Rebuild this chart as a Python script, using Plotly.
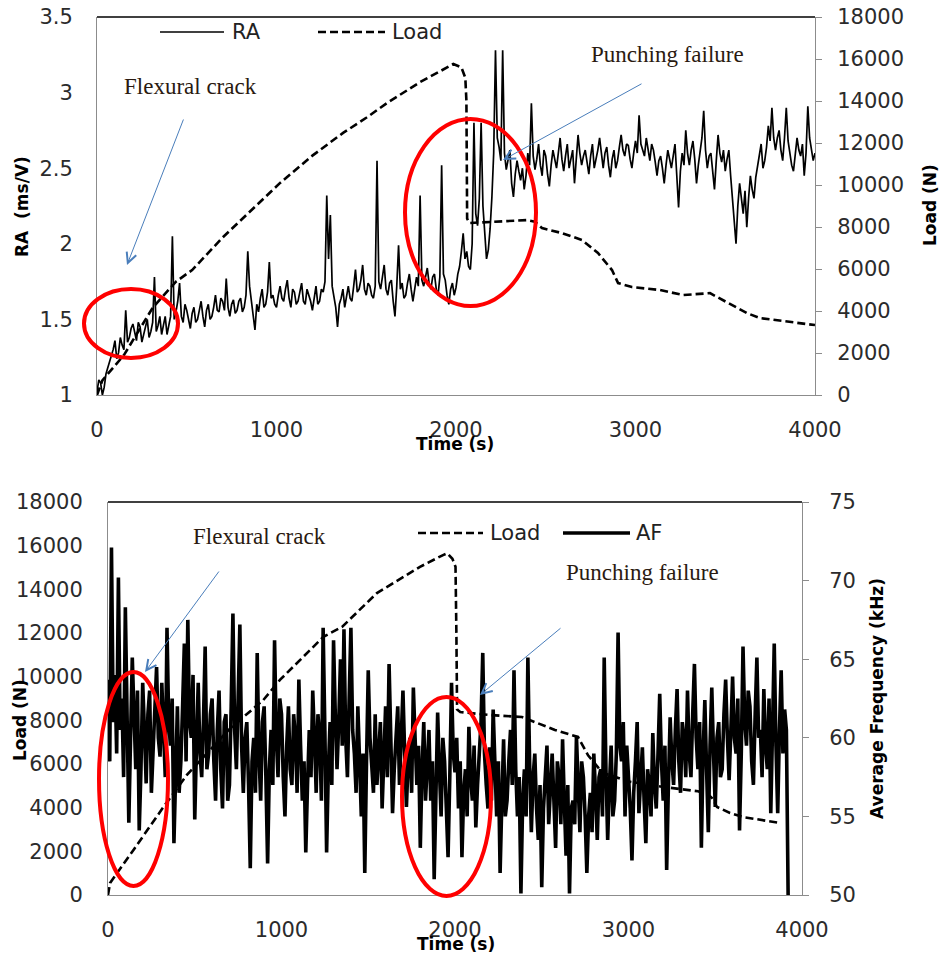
import plotly.graph_objects as go

W, H = 943, 961

# ---------------- data ----------------
ra_step = 10
ra_values = [
    1.02, 1.10, 1.08, 1.00, 1.05, 1.14, 1.18, 1.22, 1.25, 1.30, 1.36, 1.24, 1.28, 1.38, 1.33, 1.30, 1.56, 1.35, 1.38, 1.44,
    1.47, 1.40, 1.36, 1.48, 1.45, 1.35, 1.40, 1.46, 1.50, 1.38, 1.42, 1.48, 1.78, 1.42, 1.46, 1.52, 1.40, 1.46, 1.52, 1.40,
    1.45, 1.52, 2.05, 1.50, 1.55, 1.62, 1.74, 1.52, 1.48, 1.60, 1.56, 1.50, 1.44, 1.54, 1.58, 1.48, 1.50, 1.56, 1.62, 1.52,
    1.45, 1.56, 1.60, 1.50, 1.52, 1.58, 1.66, 1.56, 1.55, 1.64, 1.62, 1.56, 1.77, 1.58, 1.52, 1.60, 1.63, 1.54, 1.56, 1.62,
    1.64, 1.55, 1.58, 1.66, 1.95, 1.72, 1.62, 1.55, 1.43, 1.60, 1.55, 1.64, 1.70, 1.58, 1.60, 1.68, 1.88, 1.64, 1.66, 1.60,
    1.58, 1.66, 1.72, 1.64, 1.62, 1.70, 1.76, 1.64, 1.58, 1.70, 1.68, 1.60, 1.62, 1.68, 1.74, 1.62, 1.60, 1.70, 1.66, 1.62,
    1.56, 1.66, 1.72, 1.60, 1.62, 1.70, 1.68, 1.75, 2.32, 1.90, 2.19, 1.72, 1.66, 1.58, 1.45, 1.60, 1.64, 1.70, 1.58, 1.66,
    1.72, 1.64, 1.62, 1.72, 1.83, 1.68, 1.70, 1.76, 1.86, 1.70, 1.66, 1.74, 1.72, 1.66, 1.64, 1.72, 2.55, 1.75, 1.70, 1.78,
    1.86, 1.70, 1.66, 1.74, 1.76, 1.62, 1.52, 1.72, 1.99, 1.70, 1.74, 1.64, 1.66, 1.74, 1.80, 1.70, 1.62, 1.70, 1.78, 1.72,
    2.32, 1.76, 1.72, 1.78, 1.84, 1.74, 1.70, 1.78, 1.80, 1.70, 1.66, 1.78, 2.52, 1.80, 1.76, 1.66, 1.60, 1.70, 1.74, 1.66,
    1.71, 1.80, 1.85, 1.95, 2.07, 1.90, 1.95, 1.85, 1.83, 2.00, 2.80, 2.20, 2.12, 2.30, 2.80, 2.25, 2.05, 1.90, 1.96, 2.10,
    2.31, 2.60, 3.28, 2.70, 2.64, 2.55, 3.28, 2.60, 2.49, 2.56, 2.62, 2.40, 2.31, 2.46, 2.55, 2.48, 2.42, 2.50, 2.36, 2.45,
    2.60, 2.52, 2.93, 2.58, 2.49, 2.56, 2.66, 2.52, 2.45, 2.62, 2.58, 2.46, 2.38, 2.52, 2.62, 2.56, 2.50, 2.60, 2.70, 2.56,
    2.48, 2.58, 2.66, 2.50, 2.55, 2.62, 2.40, 2.55, 2.72, 2.60, 2.52, 2.58, 2.62, 2.54, 2.46, 2.58, 2.66, 2.50, 2.55, 2.62,
    2.70, 2.58, 2.50, 2.60, 2.64, 2.52, 2.44, 2.56, 2.62, 2.50, 2.55, 2.64, 2.72, 2.62, 2.58, 2.66, 2.65, 2.56, 2.50, 2.60,
    2.68, 2.60, 2.85, 2.66, 2.62, 2.58, 2.70, 2.62, 2.55, 2.66, 2.62, 2.54, 2.45, 2.55, 2.58, 2.50, 2.40, 2.52, 2.62, 2.56,
    2.50, 2.58, 2.66, 2.45, 2.24, 2.48, 2.60, 2.52, 2.75, 2.60, 2.52, 2.62, 2.68, 2.56, 2.40, 2.52, 2.62, 2.70, 2.88, 2.62,
    2.50, 2.58, 2.60, 2.48, 2.36, 2.55, 2.72, 2.60, 2.54, 2.62, 2.48, 2.56, 2.62, 2.45, 2.30, 2.20, 2.00, 2.25, 2.40, 2.30,
    2.20, 2.35, 2.11, 2.30, 2.45, 2.36, 2.30, 2.44, 2.52, 2.60, 2.66, 2.50, 2.55, 2.64, 2.78, 2.68, 2.90, 2.70, 2.62, 2.70,
    2.75, 2.62, 2.55, 2.70, 2.90, 2.68, 2.60, 2.52, 2.48, 2.60, 2.70, 2.62, 2.58, 2.66, 2.45, 2.60, 2.91, 2.70, 2.62, 2.55,
    2.60,
]
ra_time = [ra_step * i for i in range(len(ra_values))]

load_top_time = [0, 30, 150, 310, 440, 530, 700, 900, 1020, 1200, 1371, 1500,
                 1615, 1800, 1966, 1985, 2030, 2052, 2058, 2062, 2075, 2200,
                 2395, 2440, 2479, 2590, 2702, 2791, 2869, 2903, 2980, 3136,
                 3265, 3415, 3510, 3621, 3694, 3877, 4000]
load_top_values = [0, 700, 1900, 4150, 5400, 5950, 7500, 9100, 10100, 11400,
                   12480, 13200, 13900, 14900, 15700, 15760, 15600, 15100,
                   14000, 8400, 8190, 8240, 8330, 8250, 7950, 7710, 7380, 6760,
                   5950, 5330, 5140, 5000, 4760, 4850, 4430, 3900, 3660, 3480,
                   3330]

af_step = 10
af_values = [
    63.7, 58.5, 72.1, 61.0, 64.0, 59.0, 70.2, 60.5, 62.5, 57.5, 68.3, 62.0, 54.6, 60.0, 65.1, 61.5, 58.0, 63.0, 54.1, 58.0,
    63.5, 60.5, 57.1, 61.5, 63.0, 56.5, 59.0, 62.0, 64.5, 60.0, 58.8, 63.5, 61.0, 57.5, 67.0, 61.0, 59.5, 62.5, 53.3, 59.0,
    62.0, 56.5, 58.5, 62.0, 66.0, 58.5, 67.5, 61.0, 60.0, 64.0, 54.8, 59.5, 63.5, 59.0, 57.5, 61.0, 65.8, 58.0, 59.0, 61.5,
    62.5, 58.5, 56.0, 60.5, 63.0, 58.0, 55.5, 61.0, 61.5, 56.0, 57.0, 62.0, 67.9, 60.5, 58.0, 62.5, 67.2, 59.5, 56.5, 60.0,
    61.0, 57.0, 51.7, 58.5, 60.0, 56.5, 65.4, 59.0, 56.0, 61.0, 62.0, 57.5, 52.0, 58.0, 60.5, 57.0, 66.2, 60.0, 57.5, 62.5,
    61.5, 57.5, 55.0, 59.5, 62.0, 58.0, 57.0, 61.5, 60.0, 56.5, 63.7, 59.5, 56.0, 58.5, 52.7, 57.0, 60.5, 57.5, 63.0, 60.0,
    56.5, 61.5, 60.0, 56.0, 67.0, 60.5, 52.7, 58.0, 61.0, 57.0, 66.2, 61.5, 58.0, 61.0, 65.0, 59.5, 66.9, 60.0, 57.5, 62.5,
    67.0, 60.5, 59.0, 56.5, 62.0, 58.5, 55.0, 59.0, 51.4, 58.5, 64.3, 60.0, 58.0, 56.5, 61.5, 57.0, 59.0, 61.0, 55.5, 58.5,
    62.0, 57.5, 64.7, 60.0, 55.2, 58.0, 60.5, 62.0, 57.0, 59.5, 63.0, 59.0, 55.6, 58.5, 60.0, 56.5, 63.2, 60.0, 57.0, 59.5,
    53.0, 58.0, 61.0, 56.0, 58.0, 60.5, 56.0, 58.5, 51.0, 56.0, 61.6, 58.0, 55.0, 60.0, 58.5, 55.5, 52.4, 57.5, 63.5, 59.0,
    57.8, 60.0, 55.5, 58.5, 52.4, 56.5, 58.0, 55.0, 60.7, 57.5, 56.0, 59.5, 54.3, 57.0, 59.0, 61.0, 65.4, 59.0, 57.0, 55.5,
    59.4, 56.0, 61.8, 58.5, 55.0, 58.5, 51.4, 56.0, 59.9, 55.0, 56.0, 58.5, 60.5, 57.0, 64.3, 58.0, 55.0, 57.5, 50.1, 56.0,
    58.0, 55.0, 65.1, 58.5, 54.0, 57.5, 59.0, 55.5, 53.5, 57.0, 50.5, 55.5, 57.5, 59.5, 54.5, 56.5, 59.0, 56.0, 53.0, 58.5,
    57.5, 54.5, 59.9, 56.0, 52.5, 57.0, 50.1, 55.5, 56.0, 54.5, 60.1, 57.0, 54.0, 58.5, 57.5, 55.0, 51.4, 55.0, 56.5, 54.0,
    59.0, 56.5, 53.5, 57.5, 58.0, 55.0, 65.1, 58.0, 53.5, 57.0, 59.5, 55.0, 56.0, 59.0, 66.7, 59.5, 58.5, 61.0, 55.0, 59.5,
    57.8, 55.5, 52.2, 56.5, 58.5, 61.0, 55.2, 57.5, 59.4, 56.0, 53.3, 58.0, 57.0, 55.0, 60.3, 57.0, 55.5, 59.0, 62.8, 58.5,
    56.0, 59.5, 51.6, 57.0, 61.3, 58.5, 57.0, 60.5, 63.1, 58.5, 56.5, 61.0, 60.0, 57.5, 63.0, 59.0, 57.5, 61.5, 64.7, 60.0,
    58.0, 61.0, 53.0, 59.0, 62.4, 58.0, 54.0, 59.5, 63.2, 59.0, 55.6, 60.0, 61.0, 57.5, 58.0, 61.5, 63.7, 60.0, 57.3, 60.5,
    63.9, 60.0, 59.0, 62.5, 54.1, 59.0, 65.8, 61.0, 59.5, 63.0, 62.0, 58.5, 57.0, 61.5, 65.1, 60.0, 60.5, 57.5, 63.1, 59.5,
    58.0, 62.5, 55.2, 60.5, 66.0, 59.5, 55.2, 60.5, 64.3, 59.0, 61.8, 60.5, 50.0,
]
af_time = [af_step * i for i in range(len(af_values))]

load_bot_time = [0, 12, 150, 317, 455, 700, 895, 991, 1241, 1349, 1550, 1798,
                 1931, 1955, 1985, 2003, 2008, 2012, 2030, 2190, 2386, 2478,
                 2576, 2709, 2767, 2850, 3000, 3200, 3400, 3460, 3487, 3510,
                 3585, 3660, 3775, 3873]
load_bot_values = [0, 550, 2100, 4000, 5500, 7600, 8930, 9850, 11820, 12280,
                   13830, 15030, 15570, 15650, 15400, 15030, 12000, 8500, 8380,
                   8250, 8150, 7880, 7560, 7240, 6400, 5600, 5200, 4950, 4750,
                   4600, 4400, 4030, 3760, 3570, 3430, 3300]

time_ticks = [0, 1000, 2000, 3000, 4000]


# ---------------- helpers (pixel -> paper) ----------------
def px(x):
    return x / W


def py(y):
    return 1 - y / H


TOP_X = [px(97), px(815)]
TOP_Y = [py(395), py(17)]
BOT_X = [px(108), px(802)]
BOT_Y = [py(895), py(502)]

TICK_FONT = dict(family="DejaVu Sans", size=21, color="#2b2b2b")
SERIF = dict(family="Liberation Serif", size=23, color="#2a1a10")
AX_GRAY = "#8c8c8c"
DASH = "8px,4px"

fig = go.Figure()

fig.add_trace(go.Scatter(x=ra_time, y=ra_values, mode="lines", name="RA",
                         line=dict(color="black", width=1.7),
                         xaxis="x", yaxis="y", showlegend=False))
fig.add_trace(go.Scatter(x=load_top_time, y=load_top_values, mode="lines",
                         name="Load", line=dict(color="black", width=2.6, dash=DASH),
                         xaxis="x", yaxis="y2", showlegend=False))
fig.add_trace(go.Scatter(x=load_bot_time, y=load_bot_values, mode="lines",
                         name="Load", line=dict(color="black", width=2.6, dash=DASH),
                         xaxis="x2", yaxis="y3", showlegend=False))
fig.add_trace(go.Scatter(x=af_time, y=af_values, mode="lines", name="AF",
                         line=dict(color="black", width=3.6),
                         xaxis="x2", yaxis="y4", showlegend=False))

common_x = dict(range=[0, 4000], tickvals=time_ticks, tickformat="d",
                showgrid=False, zeroline=False, showline=True, linecolor=AX_GRAY,
                linewidth=1, ticks="", tickfont=TICK_FONT, ticklabelstandoff=16,
                automargin=False)

fig.update_layout(
    width=W, height=H,
    margin=dict(l=0, r=0, t=0, b=0),
    paper_bgcolor="white", plot_bgcolor="white",
    showlegend=False,
    xaxis=dict(domain=TOP_X, anchor="y", **common_x),
    yaxis=dict(domain=TOP_Y, anchor="x", range=[1, 3.5], dtick=0.5,
               showgrid=False, zeroline=False, showline=True, linecolor=AX_GRAY,
               ticks="", tickfont=TICK_FONT, ticklabelstandoff=19,
               automargin=False),
    yaxis2=dict(overlaying="y", anchor="x", side="right", range=[0, 18000],
                dtick=2000, tickformat="d", showgrid=False, zeroline=False,
                showline=True, linecolor=AX_GRAY, ticks="outside", ticklen=6,
                tickcolor=AX_GRAY, tickfont=TICK_FONT, ticklabelstandoff=11,
                automargin=False),
    xaxis2=dict(domain=BOT_X, anchor="y3", **common_x),
    yaxis3=dict(domain=BOT_Y, anchor="x2", range=[0, 18000], dtick=2000,
                tickformat="d", showgrid=False, zeroline=False, showline=True,
                linecolor=AX_GRAY, ticks="", tickfont=TICK_FONT,
                ticklabelstandoff=20, automargin=False),
    yaxis4=dict(overlaying="y3", anchor="x2", side="right", range=[50, 75],
                dtick=5, showgrid=False, zeroline=False, showline=True,
                linecolor=AX_GRAY, ticks="outside", ticklen=6, tickcolor=AX_GRAY,
                tickfont=TICK_FONT, ticklabelstandoff=16, automargin=False),
)

shapes = []
# top borders of plot areas
shapes.append(dict(type="line", xref="paper", yref="paper", x0=TOP_X[0], x1=TOP_X[1],
                   y0=TOP_Y[1], y1=TOP_Y[1], line=dict(color="black", width=1.5)))
shapes.append(dict(type="line", xref="paper", yref="paper", x0=BOT_X[0], x1=BOT_X[1],
                   y0=BOT_Y[1], y1=BOT_Y[1], line=dict(color="black", width=1.5)))

# manual legends
shapes.append(dict(type="line", xref="paper", yref="paper", x0=px(160), x1=px(224),
                   y0=py(32), y1=py(32), line=dict(color="black", width=1.5)))
shapes.append(dict(type="line", xref="paper", yref="paper", x0=px(318), x1=px(385),
                   y0=py(32), y1=py(32), line=dict(color="black", width=2.6, dash=DASH)))
shapes.append(dict(type="line", xref="paper", yref="paper", x0=px(418), x1=px(483),
                   y0=py(533), y1=py(533), line=dict(color="black", width=2.6, dash=DASH)))
shapes.append(dict(type="line", xref="paper", yref="paper", x0=px(563), x1=px(630),
                   y0=py(533), y1=py(533), line=dict(color="black", width=3.5)))

# red ellipses
for (x0, y0, x1, y1) in [(84, 289, 178, 358), (405, 119, 536, 306),
                         (99, 672, 168, 886), (402, 697, 491, 896)]:
    shapes.append(dict(type="circle", xref="paper", yref="paper",
                       x0=px(x0), x1=px(x1), y0=py(y1), y1=py(y0),
                       line=dict(color="#ff0000", width=4)))
fig.update_layout(shapes=shapes)

ann = []


def text(x, y, s, font, xanchor="center", angle=0):
    ann.append(dict(x=px(x), y=py(y), xref="paper", yref="paper", text=s,
                    showarrow=False, font=font, xanchor=xanchor, yanchor="middle",
                    textangle=angle))


LEG_FONT = dict(family="DejaVu Sans", size=21, color="#222222")
text(230, 32, "RA", LEG_FONT, "left")
text(390, 32, "Load", LEG_FONT, "left")
text(488, 533, "Load", LEG_FONT, "left")
text(634, 533, "AF", LEG_FONT, "left")

BOLD17 = dict(family="DejaVu Sans", size=17, color="#000000")
text(455, 444, "<b>Time (s)</b>", BOLD17)
text(456, 944, "<b>Time (s)</b>", BOLD17)
text(22, 207, "<b>RA  (ms/V)</b>", BOLD17, angle=-90)
text(930, 205, "<b>Load (N)</b>", BOLD17, angle=-90)
text(20, 720, "<b>Load (N)</b>", BOLD17, angle=-90)
text(877, 699, "<b>Average Frequency (kHz)</b>", BOLD17, angle=-90)

text(190, 86, "Flexural crack", SERIF)
text(667, 55, "Punching failure", SERIF)
text(259, 536, "Flexural crack", SERIF)
text(642, 572, "Punching failure", SERIF)

# blue arrows: (tail -> head)
for (tx, ty, hx, hy) in [(184, 118, 127, 265), (643, 83, 503, 160),
                         (220, 570, 145, 672), (562, 627, 480, 695)]:
    ann.append(dict(x=px(hx), y=py(hy), xref="paper", yref="paper",
                    ax=tx - hx, ay=ty - hy, axref="pixel", ayref="pixel",
                    text="", showarrow=True, arrowhead=5, arrowsize=2,
                    arrowwidth=1, arrowcolor="#4a7ebb"))

fig.update_layout(annotations=ann)

fig.write_html("out.html",
               config={"displayModeBar": False},
               post_script="document.body.style.margin='0';"
                           "document.body.style.overflow='hidden';")
